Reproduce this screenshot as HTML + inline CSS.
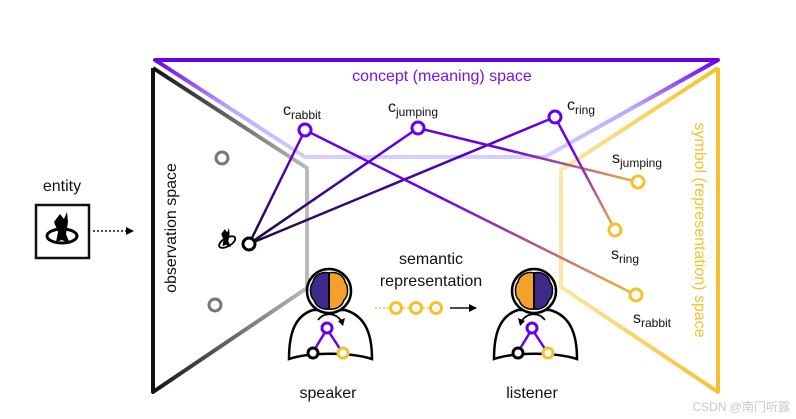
<!DOCTYPE html>
<html><head><meta charset="utf-8"><style>
html,body{margin:0;padding:0;background:#fff;}
svg{display:block;font-family:"Liberation Sans","DejaVu Sans",sans-serif;}
</style></head><body>
<svg width="796" height="419" viewBox="0 0 796 419" xmlns="http://www.w3.org/2000/svg">
<defs>
<linearGradient id="obs" x1="0" y1="0" x2="1" y2="0"><stop offset="0" stop-color="#111"/><stop offset="1" stop-color="#bbb"/></linearGradient>
<linearGradient id="con" x1="0" y1="0" x2="0" y2="1"><stop offset="0" stop-color="#6a00e8"/><stop offset="0.5" stop-color="#b9a8ff"/><stop offset="1" stop-color="#d6ceff"/></linearGradient>
<linearGradient id="sym" x1="1" y1="0" x2="0" y2="0"><stop offset="0" stop-color="#f7c12e"/><stop offset="1" stop-color="#fbe6a4"/></linearGradient>
<linearGradient id="l1" gradientUnits="userSpaceOnUse" x1="249" y1="244" x2="305" y2="130"><stop offset="0" stop-color="#1a0a3a"/><stop offset="1" stop-color="#6a00e8"/></linearGradient>
<linearGradient id="l2" gradientUnits="userSpaceOnUse" x1="249" y1="244" x2="418" y2="128"><stop offset="0" stop-color="#1a0a3a"/><stop offset="1" stop-color="#6a00e8"/></linearGradient>
<linearGradient id="l3" gradientUnits="userSpaceOnUse" x1="249" y1="244" x2="555" y2="117"><stop offset="0" stop-color="#1a0a3a"/><stop offset="1" stop-color="#6a00e8"/></linearGradient>
<linearGradient id="m1" gradientUnits="userSpaceOnUse" x1="305" y1="130" x2="636" y2="295"><stop offset="0" stop-color="#6a00e8"/><stop offset="0.4" stop-color="#6a00e8"/><stop offset="1" stop-color="#f2b630"/></linearGradient>
<linearGradient id="m2" gradientUnits="userSpaceOnUse" x1="418" y1="128" x2="638" y2="182"><stop offset="0" stop-color="#6a00e8"/><stop offset="0.4" stop-color="#6a00e8"/><stop offset="1" stop-color="#f2b630"/></linearGradient>
<linearGradient id="m3" gradientUnits="userSpaceOnUse" x1="555" y1="117" x2="615" y2="230"><stop offset="0" stop-color="#6a00e8"/><stop offset="0.3" stop-color="#6a00e8"/><stop offset="1" stop-color="#f2b630"/></linearGradient>
<marker id="ah" markerWidth="8" markerHeight="8" refX="7" refY="4" orient="auto" markerUnits="userSpaceOnUse"><path d="M0,0 L8,4 L0,8 Z" fill="#000"/></marker>
</defs>

<polygon points="155,60 718,60 545,157 305,157" fill="none" stroke="url(#con)" stroke-width="4" stroke-linejoin="round"/>
<line x1="155" y1="60" x2="718" y2="60" stroke="#6a00e8" stroke-width="4"/>
<text x="442" y="81" font-size="16" fill="#7a10ee" text-anchor="middle">concept (meaning) space</text>

<polyline points="153,68 307,168 307,288 153,392 153,68" fill="none" stroke="url(#obs)" stroke-width="4" stroke-linejoin="round"/>
<line x1="153" y1="68" x2="153" y2="392" stroke="#111" stroke-width="4"/>
<text transform="translate(176,228) rotate(-90)" font-size="16" text-anchor="middle" fill="#111">observation space</text>

<polyline points="718,68 561,170 561,287 718,392 718,68" fill="none" stroke="url(#sym)" stroke-width="4" stroke-linejoin="round"/>
<line x1="718" y1="68" x2="718" y2="392" stroke="#f7c12e" stroke-width="4"/>
<text transform="translate(695,230) rotate(90)" font-size="16" text-anchor="middle" fill="#f7c12e">symbol (representation) space</text>

<text x="62" y="191" font-size="16" text-anchor="middle" fill="#111">entity</text>
<rect x="36" y="205" width="53" height="53" fill="#fff" stroke="#111" stroke-width="2.5"/>
<g transform="translate(62,232)">
<ellipse cx="0" cy="4" rx="15" ry="7" fill="none" stroke="#000" stroke-width="3"/>
<path d="M-8,-10 L-2,-18 L2,-13 L5,-20 L6,-10 L4,2 L8,12 L0,8 L-6,10 L-4,0 Z" fill="#000"/>
</g>
<line x1="93" y1="231" x2="133" y2="231" stroke="#111" stroke-width="1.6" stroke-dasharray="2,2" marker-end="url(#ah)"/>

<line x1="249" y1="244" x2="305" y2="130" stroke="url(#l1)" stroke-width="2.5"/>
<line x1="249" y1="244" x2="418" y2="128" stroke="url(#l2)" stroke-width="2.5"/>
<line x1="249" y1="244" x2="555" y2="117" stroke="url(#l3)" stroke-width="2.5"/>
<line x1="305" y1="130" x2="636" y2="295" stroke="url(#m1)" stroke-width="2.5"/>
<line x1="418" y1="128" x2="638" y2="182" stroke="url(#m2)" stroke-width="2.5"/>
<line x1="555" y1="117" x2="615" y2="230" stroke="url(#m3)" stroke-width="2.5"/>

<g fill="#fff" stroke-width="3">
<circle cx="222" cy="158" r="6" stroke="#777"/>
<circle cx="215" cy="305" r="6" stroke="#777"/>
<circle cx="249" cy="244" r="6" stroke="#000"/>
<circle cx="305" cy="130" r="6" stroke="#6a00e8"/>
<circle cx="418" cy="128" r="6" stroke="#6a00e8"/>
<circle cx="555" cy="117" r="6" stroke="#6a00e8"/>
<circle cx="638" cy="182" r="6" stroke="#f7c12e"/>
<circle cx="615" cy="230" r="6" stroke="#f7c12e"/>
<circle cx="636" cy="295" r="6" stroke="#f7c12e"/>
</g>
<g transform="translate(226,240) scale(0.6)">
<ellipse cx="0" cy="4" rx="15" ry="7" fill="none" stroke="#000" stroke-width="3" transform="rotate(-30)"/>
<path d="M-8,-10 L-2,-18 L2,-13 L5,-20 L6,-10 L4,2 L8,12 L0,8 L-6,10 L-4,0 Z" fill="#000"/>
</g>

<g font-size="16" fill="#111">
<text x="283" y="115">c<tspan font-size="12" dy="4">rabbit</tspan></text>
<text x="388" y="112">c<tspan font-size="12" dy="4">jumping</tspan></text>
<text x="567" y="110">c<tspan font-size="12" dy="4">ring</tspan></text>
<text x="612" y="163">s<tspan font-size="12" dy="4">jumping</tspan></text>
<text x="611" y="259">s<tspan font-size="12" dy="4">ring</tspan></text>
<text x="633" y="323">s<tspan font-size="12" dy="4">rabbit</tspan></text>
</g>

<text x="431" y="264" font-size="16" text-anchor="middle" fill="#111">semantic</text>
<text x="431" y="286" font-size="16" text-anchor="middle" fill="#111">representation</text>
<line x1="375" y1="308" x2="440" y2="308" stroke="#f7c12e" stroke-width="1.5" stroke-dasharray="2,2"/>
<g fill="#fff" stroke="#f7c12e" stroke-width="3">
<circle cx="396" cy="308" r="5.5"/><circle cx="416" cy="308" r="5.5"/><circle cx="436" cy="308" r="5.5"/>
</g>
<line x1="450" y1="308" x2="476" y2="308" stroke="#111" stroke-width="1.6" marker-end="url(#ah)"/>

<g>
<path d="M313,310 C294,316 289,335 289,359 C310,352 350,352 372,359 C372,335 366,316 345,310 Z" fill="#fff" stroke="#000" stroke-width="2.5"/>
<circle cx="329" cy="291" r="22" fill="#fff" stroke="#000" stroke-width="2.5"/>
<path d="M329,273 C321,271 314,276 313,282 C309,287 310,297 314,300 C316,307 323,310 329,309 Z" fill="#3f2a8a" stroke="#000" stroke-width="1.5"/>
<path d="M329,273 C337,271 344,276 345,282 C349,287 348,297 344,300 C342,307 335,310 329,309 Z" fill="#f5a02a" stroke="#000" stroke-width="1.5"/>
<line x1="329" y1="273" x2="329" y2="309" stroke="#000" stroke-width="2"/>
<path d="M318,320 C324,312 336,312 342,322" fill="none" stroke="#000" stroke-width="1.8"/>
<path d="M338,321 L343,326 L345,318 Z" fill="#000"/>
<line x1="327" y1="329" x2="313" y2="352" stroke="#6a00e8" stroke-width="2.5"/>
<line x1="327" y1="329" x2="342" y2="352" stroke="#6a00e8" stroke-width="2.5"/>
<circle cx="327" cy="328" r="5" fill="#fff" stroke="#6a00e8" stroke-width="3"/>
<circle cx="313" cy="353" r="5" fill="#fff" stroke="#000" stroke-width="3"/>
<circle cx="343" cy="353" r="5" fill="#fff" stroke="#f7c12e" stroke-width="3"/>
</g>
<text x="328" y="398" font-size="16" text-anchor="middle" fill="#111">speaker</text>

<g transform="translate(205,0)">
<path d="M313,310 C294,316 289,335 289,359 C310,352 350,352 372,359 C372,335 366,316 345,310 Z" fill="#fff" stroke="#000" stroke-width="2.5"/>
<circle cx="329" cy="291" r="22" fill="#fff" stroke="#000" stroke-width="2.5"/>
<path d="M329,273 C321,271 314,276 313,282 C309,287 310,297 314,300 C316,307 323,310 329,309 Z" fill="#f5a02a" stroke="#000" stroke-width="1.5"/>
<path d="M329,273 C337,271 344,276 345,282 C349,287 348,297 344,300 C342,307 335,310 329,309 Z" fill="#3f2a8a" stroke="#000" stroke-width="1.5"/>
<line x1="329" y1="273" x2="329" y2="309" stroke="#000" stroke-width="2"/>
<path d="M340,320 C334,312 322,312 316,322" fill="none" stroke="#000" stroke-width="1.8"/>
<path d="M320,321 L315,326 L313,318 Z" fill="#000"/>
<line x1="327" y1="329" x2="313" y2="352" stroke="#6a00e8" stroke-width="2.5"/>
<line x1="327" y1="329" x2="342" y2="352" stroke="#6a00e8" stroke-width="2.5"/>
<circle cx="327" cy="328" r="5" fill="#fff" stroke="#6a00e8" stroke-width="3"/>
<circle cx="313" cy="353" r="5" fill="#fff" stroke="#000" stroke-width="3"/>
<circle cx="343" cy="353" r="5" fill="#fff" stroke="#f7c12e" stroke-width="3"/>
</g>
<text x="532" y="398" font-size="16" text-anchor="middle" fill="#111">listener</text>

<text x="790" y="411" font-size="12" text-anchor="end" fill="#c8c8c8" font-family="Liberation Sans, Noto Sans CJK SC, sans-serif">CSDN @南门听露</text>
</svg>
</body></html>
